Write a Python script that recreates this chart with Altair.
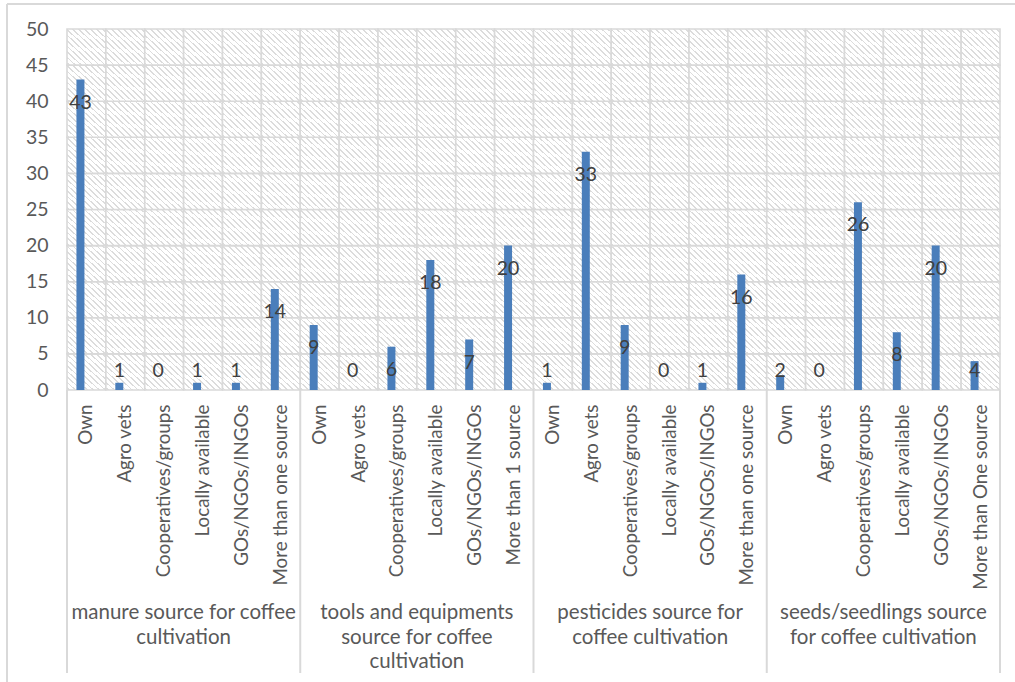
import altair as alt
import pandas as pd

# ---------------- data ----------------
group_lines = [
    ["manure source for coffee", "cultivation"],
    ["tools and equipments", "source for coffee", "cultivation"],
    ["pesticides source for", "coffee cultivation"],
    ["seeds/seedlings source", "for coffee cultivation"],
]
sub_manure = ["Own", "Agro vets", "Cooperatives/groups", "Locally available", "GOs/NGOs/INGOs", "More than one source"]
sub_tools = ["Own", "Agro vets", "Cooperatives/groups", "Locally available", "GOs/NGOs/INGOs", "More than 1 source"]
sub_pest = ["Own", "Agro vets", "Cooperatives/groups", "Locally available", "GOs/NGOs/INGOs", "More than one source"]
sub_seeds = ["Own", "Agro vets", "Cooperatives/groups", "Locally available", "GOs/NGOs/INGOs", "More than One source"]
val_manure = [43, 1, 0, 1, 1, 14]
val_tools = [9, 0, 6, 18, 7, 20]
val_pest = [1, 33, 9, 0, 1, 16]
val_seeds = [2, 0, 26, 8, 20, 4]
y_ticks = [0, 5, 10, 15, 20, 25, 30, 35, 40, 45, 50]

subs = [sub_manure, sub_tools, sub_pest, sub_seeds]
vals = [val_manure, val_tools, val_pest, val_seeds]

rows = []
keys = []
for gi, (ss, vv) in enumerate(zip(subs, vals)):
    for s, v in zip(ss, vv):
        k = f"{gi}|{s}"
        keys.append(k)
        rows.append({"key": k, "value": v, "group": gi})
df = pd.DataFrame(rows)

cells = pd.DataFrame([
    {"key": k, "y0": y_ticks[i], "y1": y_ticks[i + 1]}
    for k in keys for i in range(len(y_ticks) - 1)
])

grp_df = pd.DataFrame([
    {"key": f"{gi}|{subs[gi][2]}", "text": "\n".join(lines)}
    for gi, lines in enumerate(group_lines)
])
sep_df = pd.DataFrame([{"key": f"{gi}|{subs[gi][0]}"} for gi in range(len(subs))])
end_df = pd.DataFrame([{"key": keys[-1]}])

# ---------------- style ----------------
FONT = "Lato"
GRAY = "#595959"
LINE = "#d9d9d9"
BAR = "#4A7EBB"
HATCH = "#dcdcdc"

stops = [alt.GradientStop(offset=0, color="white")]
N = 13
w = 0.022
for k in range(N):
    a = k / N + 0.02
    stops += [
        alt.GradientStop(offset=a, color="white"),
        alt.GradientStop(offset=a, color=HATCH),
        alt.GradientStop(offset=a + w, color=HATCH),
        alt.GradientStop(offset=a + w, color="white"),
    ]
stops.append(alt.GradientStop(offset=1, color="white"))
hatch = alt.LinearGradient(gradient="linear", stops=stops, x1=0, y1=1, x2=1, y2=0)

xscale = alt.Scale(domain=keys, paddingInner=0, paddingOuter=0)
yscale = alt.Scale(domain=[0, 50], nice=False)

x_axis = alt.Axis(
    title=None, labelAngle=-90, labelAlign="right", labelBaseline="middle",
    labelExpr="split(datum.label, '|')[1]", ticks=False, domain=False, grid=False,
    labelPadding=14, labelFontSize=18.8, labelFont=FONT, labelColor=GRAY,
    labelLimit=300, labelOverlap=False,
)
y_axis = alt.Axis(
    title=None, values=y_ticks, ticks=False, domain=False, grid=False,
    labelPadding=19, labelFontSize=19.5, labelFont=FONT, labelColor=GRAY,
)

X = alt.X("key:N", scale=xscale, sort=keys, axis=x_axis)

cell_layer = alt.Chart(cells).mark_rect(fill=hatch, stroke=LINE, strokeWidth=1.6).encode(
    x=X,
    y=alt.Y("y0:Q", scale=yscale, axis=y_axis),
    y2="y1:Q",
)

bars = alt.Chart(df).mark_bar(size=8, xOffset=-6, color=BAR).encode(
    x=X,
    y=alt.Y("value:Q", scale=yscale, axis=y_axis),
)

labels = alt.Chart(df).transform_calculate(
    ly="max(datum.value - 3.2, 2.7)"
).mark_text(xOffset=-6, fontSize=19.5, font=FONT, color="#404040", baseline="middle").encode(
    x=X,
    y=alt.Y("ly:Q", scale=yscale, axis=y_axis),
    text="value:Q",
)

seps = alt.Chart(sep_df).mark_rule(color=LINE, strokeWidth=2).encode(
    x=alt.X("key:N", scale=xscale, sort=keys, axis=x_axis, bandPosition=0),
    y=alt.value(361), y2=alt.value(644),
)
end_sep = alt.Chart(end_df).mark_rule(color=LINE, strokeWidth=2).encode(
    x=alt.X("key:N", scale=xscale, sort=keys, axis=x_axis, bandPosition=1),
    y=alt.value(361), y2=alt.value(644),
)

grp_labels = alt.Chart(grp_df).mark_text(
    lineBreak="\n", baseline="top", align="center", fontSize=20.5, font=FONT,
    color=GRAY, lineHeight=24.5,
).encode(
    x=alt.X("key:N", scale=xscale, sort=keys, axis=x_axis, bandPosition=1),
    y=alt.value(574),
    text="text:N",
)

border_top = alt.Chart(end_df).mark_rule(color=LINE, strokeWidth=2).encode(
    x=alt.value(-60), x2=alt.value(960), y=alt.value(-25),
)
border_left = alt.Chart(end_df).mark_rule(color=LINE, strokeWidth=2).encode(
    x=alt.value(-60), y=alt.value(-25), y2=alt.value(660),
)

chart = alt.layer(
    cell_layer, bars, labels, seps, end_sep, grp_labels, border_top, border_left
).properties(
    width=933, height=361,
    autosize=alt.AutoSizeParams(type="none"),
    padding={"left": 67, "top": 29, "right": 15, "bottom": 292},
    background="white",
).configure_view(stroke=None)

chart.save("out.html", embed_options={"renderer": "svg", "actions": False})
